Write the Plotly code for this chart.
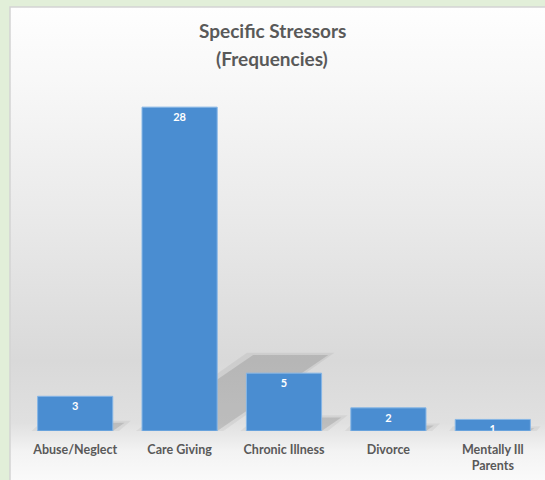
import base64
import plotly.graph_objects as go

# Stressor categories and how often each was reported
categories = ["Abuse/Neglect", "Care Giving", "Chronic Illness", "Divorce", "Mentally Ill<br>Parents"]
frequencies = [3, 28, 5, 2, 1]
title_lines = ["Specific Stressors", "(Frequencies)"]

positions = list(range(len(categories)))

W, H = 545, 480
M_L, M_R, M_T, M_B = 23, 0, 84, 49
plot_w = W - M_L - M_R
plot_h = H - M_T - M_B
BAR_GAP = 0.28
HALF = (1 - BAR_GAP) / 2

TEXT = "#595959"
FONT = "Lato"


def px_x(p):
    return (p - M_L) / plot_w


def px_y(p):
    return (H - M_B - p) / plot_h


# soft grey gradient behind the chart panel
svg = (
    "<svg xmlns='http://www.w3.org/2000/svg' width='100' height='100' "
    "viewBox='0 0 100 100' preserveAspectRatio='none'>"
    "<defs><linearGradient id='g' x1='0' y1='0' x2='0' y2='1'>"
    "<stop offset='0' stop-color='#fefefe'/>"
    "<stop offset='0.15' stop-color='#f8f8f8'/>"
    "<stop offset='0.45' stop-color='#e9e9e9'/>"
    "<stop offset='0.74' stop-color='#d9d9d9'/>"
    "<stop offset='0.87' stop-color='#e0e0e0'/>"
    "<stop offset='0.93' stop-color='#f3f3f3'/>"
    "<stop offset='1' stop-color='#fbfbfb'/>"
    "</linearGradient></defs>"
    "<rect width='100' height='100' fill='url(#g)'/></svg>"
)
svg_src = "data:image/svg+xml;base64," + base64.b64encode(svg.encode()).decode()

fig = go.Figure()

fig.add_trace(go.Bar(
    x=positions,
    y=frequencies,
    width=1 - BAR_GAP,
    marker=dict(color="#4a8dd1", line=dict(color="#86b6e6", width=1)),
    text=[str(v) for v in frequencies],
    textposition="inside",
    insidetextanchor="end",
    textangle=0,
    constraintext="none",
    textfont=dict(family=FONT, size=11, color="white", weight="bold"),
    hoverinfo="skip",
))

# perspective floor shadows cast behind each bar
shapes = []
for i, v in zip(positions, frequencies):
    dx = 0.038 * v
    dy = 0.235 * v
    for grow, alpha in ((0.06, 0.05), (0.0, 0.11)):
        x0 = i - HALF - grow
        x1 = i + HALF + grow
        path = (
            f"M {x0},0 L {x1},0 L {x1 + dx},{dy + grow * 3} "
            f"L {x0 + dx},{dy + grow * 3} Z"
        )
        shapes.append(dict(
            type="path", path=path, xref="x", yref="y",
            fillcolor=f"rgba(0,0,0,{alpha})", line=dict(width=0), layer="below",
        ))

# panel edge
shapes.append(dict(
    type="rect", xref="paper", yref="paper",
    x0=px_x(10), x1=px_x(W + 5), y0=px_y(H + 5), y1=px_y(7),
    line=dict(color="#d4d4d4", width=1.5), fillcolor="rgba(0,0,0,0)", layer="below",
))

annotations = [
    dict(text=title_lines[0], x=px_x(272), y=px_y(31), xref="paper", yref="paper",
         showarrow=False, xanchor="center", yanchor="middle",
         font=dict(family=FONT, size=19, color=TEXT, weight="bold")),
    dict(text=title_lines[1], x=px_x(272), y=px_y(58), xref="paper", yref="paper",
         showarrow=False, xanchor="center", yanchor="middle",
         font=dict(family=FONT, size=19, color=TEXT, weight="bold")),
]

fig.update_layout(
    width=W, height=H,
    margin=dict(l=M_L, r=M_R, t=M_T, b=M_B, pad=0),
    paper_bgcolor="#e2efd9",
    plot_bgcolor="rgba(0,0,0,0)",
    showlegend=False,
    bargap=BAR_GAP,
    shapes=shapes,
    annotations=annotations,
    images=[dict(
        source=svg_src, xref="paper", yref="paper",
        x=px_x(10), y=px_y(7), sizex=px_x(W + 5) - px_x(10), sizey=px_y(7) - px_y(H + 5),
        xanchor="left", yanchor="top", sizing="stretch", layer="below",
    )],
    font=dict(family=FONT, color=TEXT),
)

fig.update_xaxes(
    range=[-0.5, len(categories) - 0.5],
    tickmode="array", tickvals=positions, ticktext=categories,
    showgrid=False, zeroline=False, showline=False, ticks="",
    ticklabelstandoff=9,
    tickfont=dict(family=FONT, size=12.5, color=TEXT, weight="bold"),
)
fig.update_yaxes(
    range=[0, 30], visible=False, showgrid=False, zeroline=False,
)

fig.write_html("out.html")
